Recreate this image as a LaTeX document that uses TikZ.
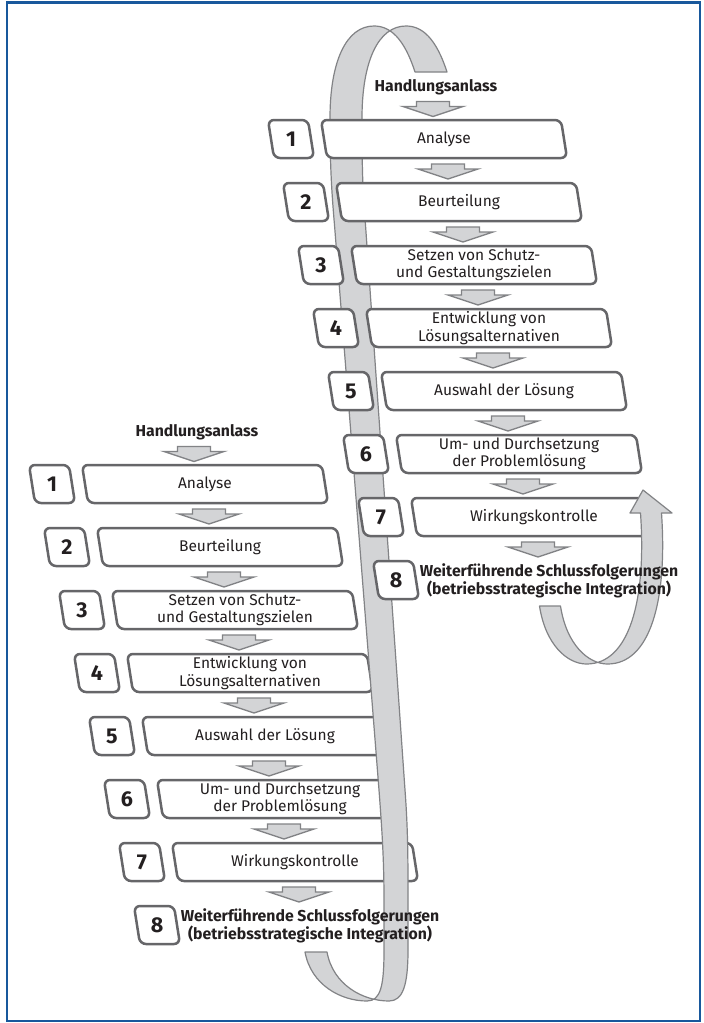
\documentclass[tikz,border=0pt]{standalone}
\usepackage{fontspec}
\setmainfont{Fira Sans}
\definecolor{frameblue}{RGB}{24,88,156}
\definecolor{boxgray}{RGB}{102,102,105}
\definecolor{ribfill}{RGB}{211,212,214}
\definecolor{ribline}{RGB}{130,131,134}
\definecolor{txt}{RGB}{35,31,32}
\newcommand\drawseries[1]{%
  \node[headtext] (#1H) at (436,87) {Handlungsanlass};
  \foreach \i/\t in {1/Analyse,2/Beurteilung,3/{Setzen von Schutz-\\und Gestaltungszielen},4/{Entwicklung von\\Lösungsalternativen},5/Auswahl der Lösung,6/{Um- und Durchsetzung\\der Problemlösung},7/Wirkungskontrolle}{
    \pgfmathsetmacro\cx{444+15*(\i-1)}
    \pgfmathsetmacro\cy{139+63*(\i-1)}
    \pgfmathsetmacro\nx{291+15*(\i-1)}
    \draw[boxline] (\nx-23,\cy-19) -- (\nx+17,\cy-19) -- (\nx+23,\cy+19) -- (\nx-17,\cy+19) -- cycle;
    \node[numtext] (#1N\i) at (\nx,\cy) {\i};
    \draw[boxline] (\cx-123,\cy-19) -- (\cx+117,\cy-19) -- (\cx+123,\cy+19) -- (\cx-117,\cy+19) -- cycle;
    \node[labtext] (#1B\i) at (\cx,\cy) {\t};
  }
  \draw[boxline] (396-23,580-19) -- (396+17,580-19) -- (396+23,580+19) -- (396-17,580+19) -- cycle;
  \node[numtext] (#1N8) at (396,580) {8};
  \draw[blk] ([shift={(-3,22)}]#1H.center) ++(-16.5,-7.5) -- ++(33,0) -- ++(0,5) -- ++(13.5,0) -- ++(-30,10) -- ++(-30,-10) -- ++(13.5,0) -- cycle;
  \foreach \k in {1,...,7}{
    \draw[blk] ([shift={(4,32.5)}]#1B\k.center) ++(-16.5,-7.5) -- ++(33,0) -- ++(0,5) -- ++(13.5,0) -- ++(-30,10) -- ++(-30,-10) -- ++(13.5,0) -- cycle;
  }
}
\begin{document}
\begin{tikzpicture}[x=1pt,y=-1pt,
  boxline/.style={draw=boxgray, line width=2.5pt, fill=white, rounded corners=6pt},
  labtext/.style={text=txt, font=\fontsize{15.5}{17.5}\selectfont, align=center, inner sep=0pt},
  numtext/.style={text=txt, font=\fontsize{21.5}{23}\selectfont\bfseries, inner sep=0pt},
  headtext/.style={text=txt, font=\fontsize{15.8}{18}\selectfont\bfseries, align=center, inner sep=0pt},
  blk/.style={draw=ribline, line width=1.3pt, fill=ribfill, line join=miter},
  ribbon/.style={draw=ribline, line width=1.2pt, fill=ribfill, line join=round},
]
\useasboundingbox (0,0) rectangle (704,1023);
\fill[white] (0,0) rectangle (704,1023);
\draw[frameblue, line width=2pt] (7,3) rectangle (700,1021);
\draw[frameblue, line width=3.5pt] (6,2.5) -- (701,2.5);
% lower series
\begin{scope}[shift={(-239,345)}]
  \drawseries{l}
\end{scope}
% main ribbon
\draw[ribbon] (415,72) .. controls (404,38) and (390,26) .. (374,26)
  .. controls (346,26) and (330,62) .. (330,118)
  .. controls (330,165) and (331.5,190) .. (334.5,225)
  -- (379,790) .. controls (382,830) and (384,860) .. (384,900)
  -- (384,950) .. controls (384,985) and (381,1001) .. (367,1001)
  .. controls (341,1001) and (311,985) .. (305,952)
  -- (327,952) .. controls (333,985) and (363,1001) .. (389,1001)
  .. controls (403,1001) and (408,985) .. (408,950)
  -- (408,900) .. controls (408,860) and (408,830) .. (405,790)
  -- (365.5,225) .. controls (362.5,190) and (362,165) .. (362,118)
  .. controls (362,62) and (378,26) .. (406,26)
  .. controls (422,26) and (436,38) .. (447,72) -- cycle;
\node[headtext] (l8) at (310,926) {Weiterführende Schlussfolgerungen\\(betriebsstrategische Integration)};
% upper series
\drawseries{u}
% loop arrow
\draw[ribbon] (539.5,606) .. controls (545.5,645) and (567.5,664) .. (586.5,664)
  .. controls (629.5,664) and (646.5,600) .. (640.5,513)
  -- (630,513) -- (643,490) -- (672,513) -- (661.5,513)
  .. controls (667.5,600) and (650.5,664) .. (607.5,664)
  .. controls (588.5,664) and (566.5,645) .. (560.5,606) -- cycle;
\node[headtext] (u8) at (549,581) {Weiterführende Schlussfolgerungen\\(betriebsstrategische Integration)};
\end{tikzpicture}
\end{document}
